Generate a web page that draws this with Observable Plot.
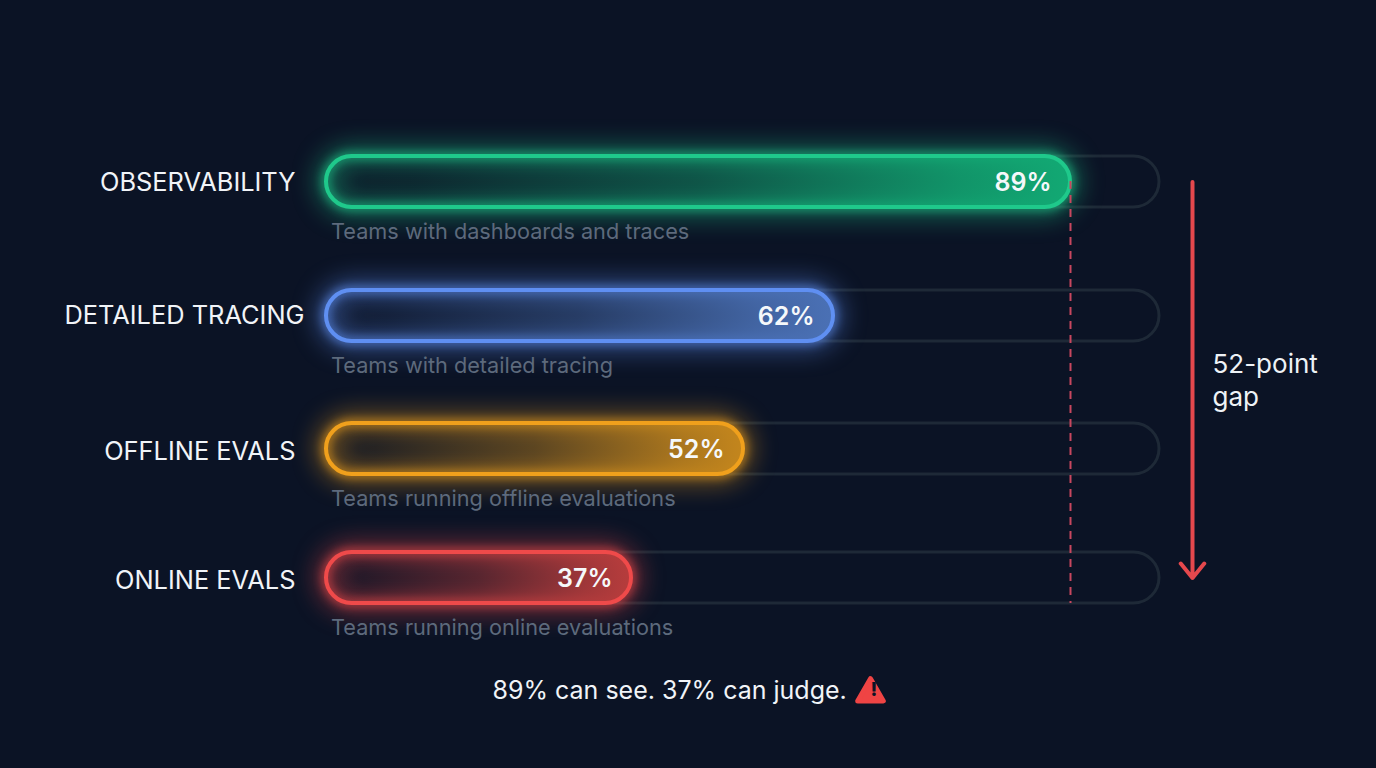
<!DOCTYPE html>
<html>
<head>
<meta charset="utf-8">
<script src="https://cdn.jsdelivr.net/npm/d3@7"></script>
<script src="https://cdn.jsdelivr.net/npm/@observablehq/plot@0.6"></script>
<style>
html,body{margin:0;padding:0;background:#0b1325;overflow:hidden}
svg{display:block}
</style>
</head>
<body>
<div id="chart"></div>
<script>
const categories = ["OBSERVABILITY", "DETAILED TRACING", "OFFLINE EVALS", "ONLINE EVALS"];
const values = [89, 62, 52, 37];
const notes = ["Teams with dashboards and traces", "Teams with detailed tracing", "Teams running offline evaluations", "Teams running online evaluations"];
const colors = ["#1fc98b", "#5f8ff2", "#f0a01c", "#ef4a4a"];
const fills = ["#12a873", "#4a70b4", "#c2851d", "#b53c3c"];
const rowNudge = [0, 2, 3, 0];
const labelNudge = [-31, -22, -31, -31];
const labelDrop = [1, 0, 3, 3];
const gapLabel = "52-point\ngap";
const takeaway = "89% can see. 37% can judge.";
const xStops = [0, 37, 52, 62, 89, 100];
const xPlaces = [326, 631, 743, 833, 1070, 1159];

const rows = categories.map((name, i) => ({name, value: values[i], note: notes[i], color: colors[i], fill: fills[i], i}));
const font = "Inter, 'Noto Sans', sans-serif";
const piecewise = d3.scaleLinear().domain(xStops).range(xPlaces);
const blur = px => (index, scales, channels, dims, context, next) => {
  const g = next(index, scales, channels, dims, context);
  g.style.filter = `blur(${px}px)`;
  return g;
};

function defs() {
  const d = d3.create("svg:defs");
  rows.forEach(r => {
    const g = d.append("linearGradient").attr("id", "grad" + r.i);
    [[0, 0], [0.12, 0.05], [0.5, 0.38], [0.85, 0.85], [1, 1]].forEach(([o, a]) =>
      g.append("stop").attr("offset", o).attr("stop-color", r.fill).attr("stop-opacity", a));
  });
  return d.node();
}

const rowMarks = rows.flatMap(r => {
  const dy = rowNudge[r.i];
  const bar = {x1: 0, x2: "value", y: "name", rx: 25.5, dy};
  return [
    Plot.barX([r], {...bar, fill: "none", stroke: "#1e2937", strokeWidth: 3, x2: () => 100}),
    Plot.barX([r], {...bar, fill: "none", stroke: r.color, strokeWidth: 14, strokeOpacity: 0.65, render: blur(13)}),
    Plot.barX([r], {...bar, fill: "none", stroke: r.color, strokeWidth: 7, strokeOpacity: 0.75, render: blur(5)}),
    Plot.barX([r], {...bar, fill: `url(#grad${r.i})`, stroke: r.color, strokeWidth: 4}),
    Plot.text([r], {x: 0, y: "name", text: "name", textAnchor: "end", dx: labelNudge[r.i], dy: dy + labelDrop[r.i], fontSize: 25.4, fill: "#f1f4f8"}),
    Plot.text([r], {x: 0, y: "name", text: "note", textAnchor: "start", dx: 4.5, dy: dy + 50.5, fontSize: 21.7, fill: "#5d6a7c"}),
    Plot.text([r], {x: "value", y: "name", text: d => d.value + "%", textAnchor: "end", dx: -19, dy: dy + 1, fontSize: 25, fontWeight: 600, fill: "#f5f8fa"})
  ];
});

const chart = Plot.plot({
  width: 1376,
  height: 768,
  margin: 0,
  style: {background: "#0b1325", fontFamily: font},
  x: {domain: [326, 1376], range: [326, 1376], transform: piecewise, axis: null},
  y: {type: "band", domain: categories, range: [116, 644], paddingInner: 0.613, paddingOuter: 0.3065, align: 0.5, axis: null},
  marks: [
    () => defs(),
    ...rowMarks,
    Plot.ruleX([values[0]], {y1: () => categories[0], y2: () => categories[3], stroke: "#c8475f", strokeWidth: 2, strokeDasharray: "8 6", insetTop: 25, insetBottom: 0}),
    Plot.arrow([{}], {x1: () => 100, x2: () => 100, y1: () => categories[0], y2: () => categories[3], dx: 33, stroke: "#e5484d", strokeWidth: 4, bend: 0, headAngle: 78, headLength: 7}),
    Plot.text([gapLabel], {x: 100, y: () => categories[1], text: d => d, dx: 53, dy: 65, textAnchor: "start", fontSize: 26, lineHeight: 1.27, fill: "#eef2f6"}),
    Plot.text([takeaway], {frameAnchor: "top-left", text: d => d, lineAnchor: "middle", dx: 492, dy: 690, textAnchor: "start", fontSize: 25, fill: "#f1f4f8"}),
    Plot.dot([takeaway], {frameAnchor: "top-left", dx: 870, dy: 693, symbol: "triangle", r: 9.5, fill: "#ef4444", stroke: "#ef4444", strokeWidth: 5, strokeLinejoin: "round"}),
    Plot.text(["!"], {frameAnchor: "top-left", text: d => d, lineAnchor: "middle", dx: 870, dy: 689, fontSize: 19, fontWeight: 800, fill: "#0b1325"})
  ]
});
document.getElementById("chart").append(chart);
</script>
</body>
</html>
